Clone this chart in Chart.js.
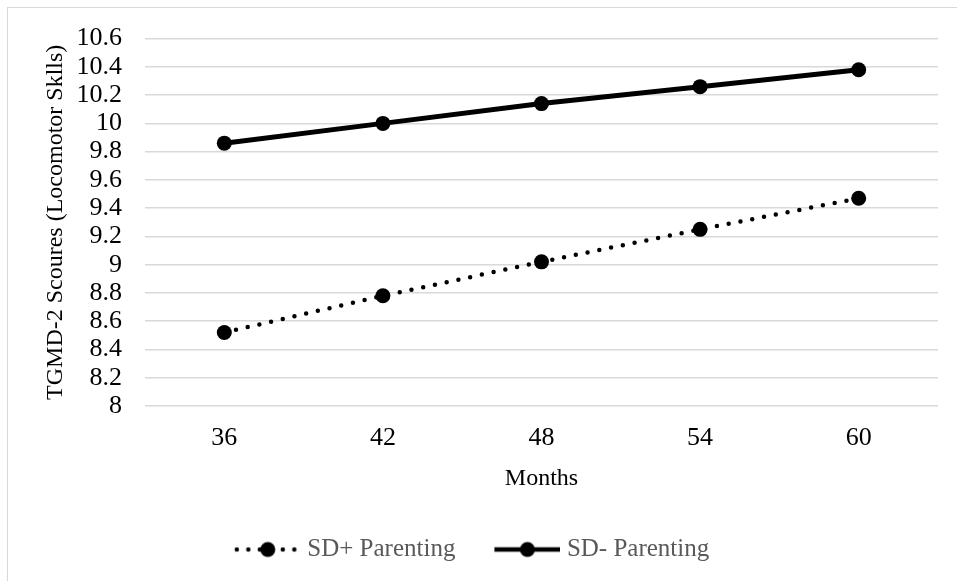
<!DOCTYPE html>
<html>
<head>
<meta charset="utf-8">
<script src="https://cdn.jsdelivr.net/npm/chart.js@4.4.1/dist/chart.umd.min.js"></script>
<style>
  html, body { margin: 0; padding: 0; background: #fff; }
</style>
</head>
<body>
<canvas id="chart" width="957" height="581"></canvas>
<script>
// Chart data
const months = ["36", "42", "48", "54", "60"];
const sdPlus = [8.52, 8.78, 9.02, 9.25, 9.47];
const sdMinus = [9.86, 10.0, 10.14, 10.26, 10.38];
const yTicks = [8, 8.2, 8.4, 8.6, 8.8, 9, 9.2, 9.4, 9.6, 9.8, 10, 10.2, 10.4, 10.6];
const seriesNames = ["SD+ Parenting", "SD- Parenting"];
const xTitle = "Months";
const yTitle = "TGMD-2 Scoures (Locomotor Sklls)";

const FONT = "'Liberation Serif', 'Times New Roman', serif";

// Legend swatch: short line (dotted or solid) with a marker in the middle
function makeSwatch(dotted) {
  const c = document.createElement("canvas");
  c.width = 72;
  c.height = 20;
  const g = c.getContext("2d");
  g.strokeStyle = "#000";
  g.fillStyle = "#000";
  g.lineWidth = 4.5;
  g.beginPath();
  if (dotted) {
    g.lineCap = "round";
    g.setLineDash([0, 11.5]);
    g.moveTo(8, 10);
    g.lineTo(70, 10);
  } else {
    g.moveTo(6, 10);
    g.lineTo(72, 10);
  }
  g.stroke();
  g.setLineDash([]);
  g.beginPath();
  g.arc(39, 10, 7.5, 0, Math.PI * 2);
  g.fill();
  return c;
}
const swatches = [makeSwatch(true), makeSwatch(false)];

// Light grey frame around the chart
const framePlugin = {
  id: "frame",
  beforeDraw(chart) {
    const ctx = chart.ctx;
    ctx.save();
    ctx.strokeStyle = "#d9d9d9";
    ctx.lineWidth = 1;
    ctx.strokeRect(7.5, 7.5, 1000, 1000);
    ctx.restore();
  }
};

const ctx = document.getElementById("chart").getContext("2d");
new Chart(ctx, {
  type: "line",
  data: {
    labels: months,
    datasets: [
      {
        label: seriesNames[0],
        data: sdPlus,
        borderColor: "#000",
        borderWidth: 4.5,
        borderDash: [0, 12],
        borderCapStyle: "round",
        pointRadius: 7.5,
        pointBackgroundColor: "#000",
        pointBorderWidth: 0,
        tension: 0
      },
      {
        label: seriesNames[1],
        data: sdMinus,
        borderColor: "#000",
        borderWidth: 5,
        pointRadius: 7.5,
        pointBackgroundColor: "#000",
        pointBorderWidth: 0,
        tension: 0
      }
    ]
  },
  options: {
    responsive: false,
    animation: false,
    layout: { padding: { left: 6, right: 19, top: 36, bottom: 9 } },
    scales: {
      x: {
        offset: true,
        grid: { display: false, drawTicks: false },
        border: { display: false },
        ticks: { color: "#000", padding: 17, font: { family: FONT, size: 26 } },
        title: {
          display: true,
          text: xTitle,
          color: "#000",
          padding: { top: 0, bottom: 5 },
          font: { family: FONT, size: 24 }
        },
        afterFit: (s) => { s.height = 92; }
      },
      y: {
        min: 8,
        max: 10.6,
        afterBuildTicks: (s) => { s.ticks = yTicks.map(v => ({ value: v })); },
        grid: { color: "#d9d9d9", lineWidth: 1.5, drawTicks: false },
        border: { display: false },
        ticks: {
          color: "#000",
          padding: 23,
          autoSkip: false,
          font: { family: FONT, size: 26 },
          callback: (v) => String(v)
        },
        title: {
          display: true,
          text: yTitle,
          color: "#000",
          padding: { top: 35, bottom: 0 },
          font: { family: FONT, size: 24 }
        },
        afterFit: (s) => { s.width = 139; }
      }
    },
    plugins: {
      tooltip: { enabled: false },
      legend: {
        position: "bottom",
        labels: {
          usePointStyle: true,
          pointStyleWidth: 60,
          padding: 39,
          color: "#595959",
          font: { family: FONT, size: 25 },
          generateLabels: (chart) => chart.data.datasets.map((ds, i) => ({
            text: ds.label,
            pointStyle: swatches[i],
            fillStyle: "#000",
            strokeStyle: "#000",
            lineWidth: 0,
            fontColor: "#595959",
            hidden: false,
            datasetIndex: i
          }))
        }
      }
    }
  },
  plugins: [framePlugin]
});
</script>
</body>
</html>
